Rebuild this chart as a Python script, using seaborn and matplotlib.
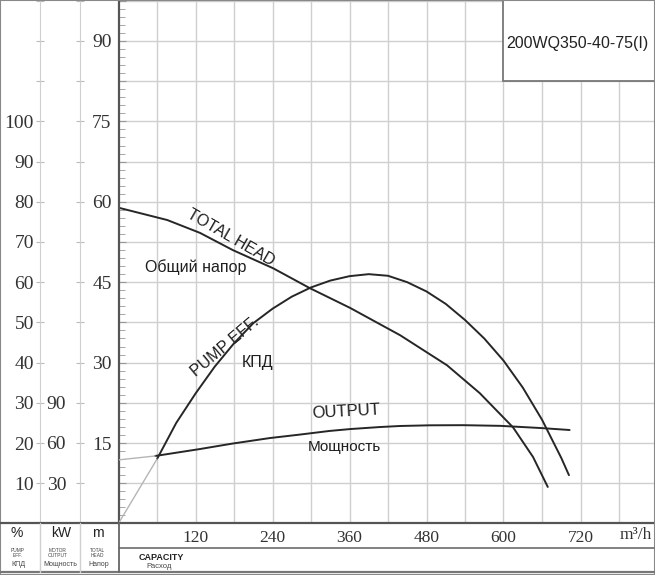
import matplotlib
matplotlib.use('Agg')
import matplotlib.pyplot as plt
from matplotlib.lines import Line2D
from matplotlib.patches import Rectangle
import numpy as np
import seaborn as sns

# capacity (m3/h) vs. curve values
head_q = [0, 76, 127, 178, 241, 298, 361, 439, 512, 563, 615, 646, 669]
head_m = [58.9, 56.6, 54.2, 51.0, 47.6, 43.9, 40.2, 35.1, 29.5, 24.3, 17.9, 12.4, 6.8]

eff_q = [0, 60, 90, 120, 150, 180, 210, 240, 270, 300, 330, 360, 390, 420, 450,
         480, 510, 540, 570, 600, 630, 660, 690, 702]
eff_pct = [0, 16.0, 25.0, 32.3, 39.0, 44.8, 49.8, 53.4, 56.4, 58.7, 60.4, 61.5, 62.0,
           61.6, 60.0, 57.7, 54.6, 50.6, 46.0, 40.5, 33.8, 25.8, 16.3, 12.0]

power_q = [0, 57, 127, 178, 236, 283, 329, 361, 407, 439, 485, 537, 595, 657, 703]
power_kw = [47.4, 50.3, 55.5, 59.6, 63.7, 66.3, 69.0, 70.4, 71.9, 72.7, 73.2, 73.3,
            72.8, 71.2, 69.7]

q_labels = [120, 240, 360, 480, 600, 720]
head_labels = [15, 30, 45, 60, 75, 90]
eff_labels = [10, 20, 30, 40, 50, 60, 70, 80, 90, 100]
kw_labels = [30, 60, 90]
model = '200WQ350-40-75(I)'

W, H = 655, 575
X0, Y0 = 118.5, 523.4          # pixel position of the origin
Q_MAX = (W - X0) * 60 / 38.5
H_MAX = Y0 * 15 / 80.4


def fx(px):
    return px / W


def fy(py):
    return 1 - py / H


sns.set_style('white')
plt.rcParams['font.family'] = ['Liberation Sans', 'DejaVu Sans']

fig = plt.figure(figsize=(W / 100, H / 100), dpi=100)
ax = fig.add_axes([fx(X0), fy(Y0), fx(W) - fx(X0), fy(0) - fy(Y0)])
ax.set_xlim(0, Q_MAX)
ax.set_ylim(0, H_MAX)

serif = dict(family='Liberation Serif', color='#333333')
grid_c = '#cfcfcf'
line_c = '#262626'

# grid + ticks on the head axis
xt = np.arange(60, Q_MAX, 60)
ax.set_xticks(xt)
ax.set_xticklabels([str(int(q)) if int(q) in q_labels else '' for q in xt], fontsize=12.5, **serif)
ax.set_xticks(np.arange(12, Q_MAX, 12), minor=True)
yt = np.arange(7.5, H_MAX, 7.5)
ax.set_yticks(yt)
ax.set_yticklabels([f'{v:g}' if v in head_labels else '' for v in yt], fontsize=14, **serif)
ax.set_yticks(np.arange(1.5, H_MAX, 1.5), minor=True)
ax.grid(True, which='major', color=grid_c, lw=1.0)
ax.tick_params(axis='x', which='major', length=0, pad=5)
ax.tick_params(axis='y', which='major', length=5, direction='in', color='#999999', pad=5)
ax.tick_params(which='minor', length=4, direction='in', color='#999999')
for s in ['top', 'right']:
    ax.spines[s].set_visible(False)
for s in ['left', 'bottom']:
    ax.spines[s].set_color('#555555')
    ax.spines[s].set_linewidth(1.6)

sns.lineplot(x=head_q, y=head_m, ax=ax, color=line_c, lw=1.4)

# model box
ax.add_patch(Rectangle((600, 82.6), 400, 30, facecolor='white', edgecolor='#777777',
                       lw=1.3, zorder=3))
ax.text(604, 89.6, model, fontsize=11.5, color='#222222', va='center', ha='left', zorder=4)

# efficiency axis (%) and motor output axis (kW) on the left columns
ax_pct = ax.twinx()
ax_kw = ax.twinx()
for a, col_px, vmax, step, labels, pad in [(ax_pct, 40, H_MAX * 4 / 3, 10, eff_labels, 1.5),
                                             (ax_kw, 80, H_MAX * 4, 30, kw_labels, 7)]:
    a.set_ylim(0, vmax)
    for s in ['top', 'bottom', 'right']:
        a.spines[s].set_visible(False)
    a.spines['left'].set_position(('axes', (col_px - X0) / (W - X0)))
    a.spines['left'].set_color('#d0d0d0')
    a.yaxis.set_ticks_position('left')
    ticks = np.arange(step, vmax, step)
    a.set_yticks(ticks)
    a.set_yticklabels([f'{v:g}' if v in labels else '' for v in ticks], fontsize=14, **serif)
    a.tick_params(axis='y', length=6, direction='inout', color='#bbbbbb', pad=pad)

sns.lineplot(x=eff_q[1:], y=eff_pct[1:], ax=ax_pct, color=line_c, lw=1.4)
sns.lineplot(x=eff_q[:2], y=eff_pct[:2], ax=ax_pct, color='#b5b5b5', lw=1.0)
sns.lineplot(x=power_q[1:], y=power_kw[1:], ax=ax_kw, color=line_c, lw=1.4)
sns.lineplot(x=power_q[:2], y=power_kw[:2], ax=ax_kw, color='#b5b5b5', lw=1.0)
for a in (ax_pct, ax_kw):
    a.set_xlabel('')
    a.set_ylabel('')
ax.set_xlim(0, Q_MAX)

# curve labels
tk = dict(color='#1e1e1e', ha='center', va='center', rotation_mode='anchor')
ax.text(175, 53.3, 'TOTAL HEAD', fontsize=11.5, rotation=-30, **tk)
ax.text(120, 47.8, 'Общий напор', fontsize=11.5, **tk)
ax.text(166, 33.0, 'PUMP EFF.', fontsize=11.5, rotation=40, **tk)
ax.text(217, 30.0, 'КПД', fontsize=11.5, **tk)
ax.text(355, 20.8, 'OUTPUT', fontsize=12, rotation=3, **tk)
ax.text(352, 14.3, 'Мощность', fontsize=11, **tk)


# table lines around the scales
def hline(py, x1, x2, c, lw):
    fig.add_artist(Line2D([fx(x1), fx(x2)], [fy(py), fy(py)], color=c, lw=lw))


def vline(px, y1, y2, c, lw):
    fig.add_artist(Line2D([fx(px), fx(px)], [fy(y1), fy(y2)], color=c, lw=lw))


hline(Y0, 0, X0, '#555555', 1.6)
hline(548, X0, W, '#777777', 1.3)
hline(572, 0, W, '#777777', 1.6)
vline(40, Y0, 572, '#d0d0d0', 1.0)
vline(80, Y0, 572, '#d0d0d0', 1.0)
vline(X0, Y0, 572, '#666666', 1.3)
fig.add_artist(Rectangle((0, 0), 1, 1, transform=fig.transFigure, fill=False,
                         ec='#888888', lw=1.5))

# units and captions
hdr = dict(ha='center', va='center', color='#222222')
fig.text(fx(17), fy(533), '%', fontsize=10, **hdr)
fig.text(fx(61), fy(533), 'kW', fontsize=10, **hdr)
fig.text(fx(98), fy(533), 'm', fontsize=10, **hdr)
fig.text(fx(636), fy(535), 'm³/h', fontsize=12.5, ha='center', va='center',
         family='Liberation Serif', color='#333333')
small = dict(ha='center', va='center', color='#444444', linespacing=0.9)
fig.text(fx(18), fy(553), 'PUMP\nEFF.', fontsize=3.5, **small)
fig.text(fx(18), fy(565), 'КПД', fontsize=5, **small)
fig.text(fx(58), fy(553), 'MOTOR\nOUTPUT', fontsize=3.5, **small)
fig.text(fx(60), fy(565), 'Мощность', fontsize=5, **small)
fig.text(fx(97), fy(553), 'TOTAL\nHEAD', fontsize=3.5, **small)
fig.text(fx(99), fy(565), 'Напор', fontsize=5, **small)
fig.text(fx(161), fy(557), 'CAPACITY', fontsize=6.5, ha='center', va='center',
         color='#222222', weight='bold')
fig.text(fx(159), fy(566), 'Расход', fontsize=5.5, ha='center', va='center', color='#444444')

fig.savefig('out.png', dpi=100)
